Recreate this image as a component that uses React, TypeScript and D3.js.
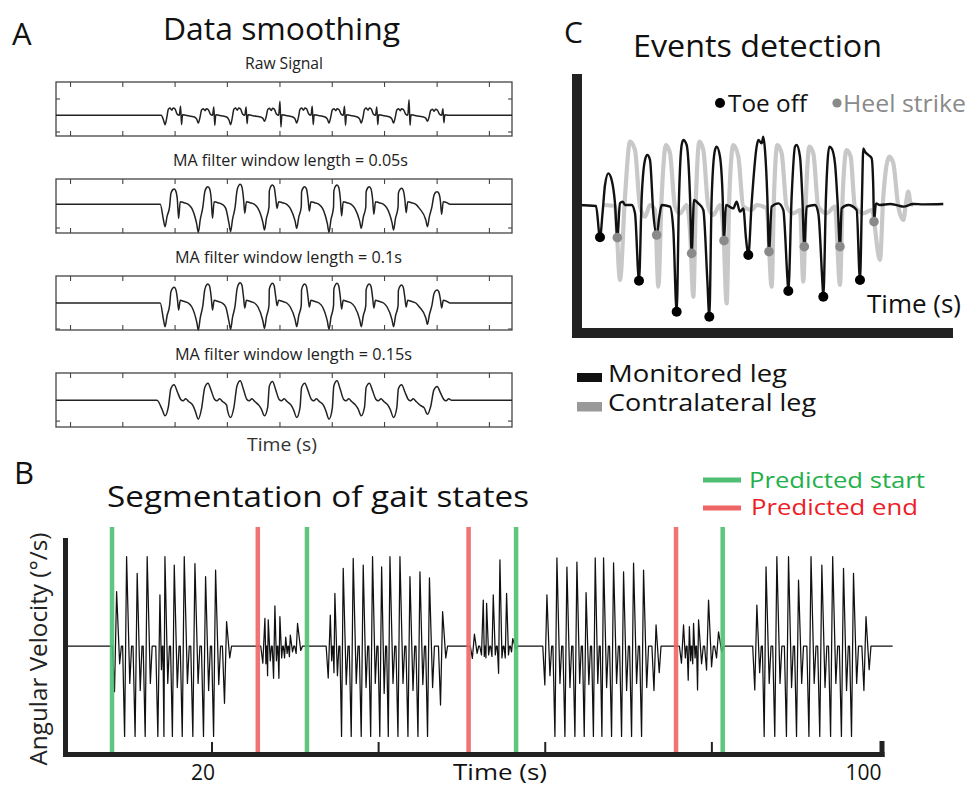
import React from "react";
import * as d3 from "d3";

type P = [number, number];

// ---------------- Panel A: data smoothing (unlabelled time units) ----------------
const aTickT = [-2.31, -0.69, 0.93, 2.55, 4.18, 5.8, 7.42, 9.05, 10.67];
const aTroughT = [0.62, 1.65, 2.65, 3.7, 4.7, 5.7, 6.7, 7.7, 8.75];
const aPeakT = [0.9, 1.95, 2.95, 3.95, 4.95, 5.95, 6.95, 7.95, 9.05];
const rawDip = [-28, -23, -28, -18, -23, -23, -23, -23, -18];
const rawBump = [22, 20, 22, 21, 22, 20, 22, 20, 18];
const rawSpikeUp = [27, 25, 25, 42, 27, 27, 25, 47, 20];
const rawSpikeDown = [-28, -30, -25, -35, -28, -30, -28, -30, -22];
const ma05Trough = [-67, -84, -82, -77, -72, -84, -72, -77, -67];
const ma05Peak = [46, 53, 60, 58, 53, 58, 53, 48, 38];
const ma05Notch = [-42, -42, -27, -12, -20, -35, -30, -25, -30];
const ma10Trough = [-71, -81, -79, -76, -71, -79, -71, -71, -64];
const ma10Peak = [47, 57, 61, 59, 57, 59, 57, 54, 39];
const ma10Notch = [-21, -21, -15, -8, -12, -18, -15, -12, -15];
const ma15Trough = [-48, -58, -53, -48, -53, -58, -48, -53, -43];
const ma15Peak = [47, 52, 59, 57, 52, 59, 52, 47, 42];
const aTitles = ["Raw Signal", "MA filter window length = 0.05s", "MA filter window length = 0.1s", "MA filter window length = 0.15s"];
const aVRange: P[] = [[-62, 100], [-86, 76], [-81, 81], [-82, 83]];
const aYTicks = [[49, -50], [-71], [-78], [-64]];

// ---------------- Panel B: gait segmentation (s, °/s) ----------------
// each stride: [peak time, peak value, deep trough, heel-strike trough]
const walk1 = [[8.55, 183, -154, -60], [9.75, 301, -305, -126], [11.02, 245, -305, -150], [12.22, 301, -305, -126], [13.75, 172, -305, -80], [14.35, 301, -305, -126], [15.47, 273, -305, -140], [16.67, 301, -305, -126], [17.95, 278, -305, -126], [19.23, 234, -305, -150], [20.43, 256, -305, -130], [21.75, 82, -193, -40]];
const walk2 = [[26.35, 93, -58, -60], [26.75, 88, -100, -50], [27.55, 135, -109, -50], [28.15, 99, -109, -40], [28.85, 30, -40, -25], [29.4, 37, -36, -20], [30.27, 76, -25, -15]];
const walk3 = [[34.2, 104, -108, -50], [34.75, 177, -90, -100], [35.75, 262, -305, -130], [36.95, 295, -305, -126], [38.15, 273, -305, -140], [39.27, 301, -305, -126], [40.36, 267, -305, -160], [41.36, 301, -305, -126], [42.56, 301, -305, -126], [43.76, 234, -305, -150], [44.96, 250, -305, -130], [46.1, 230, -305, -140], [47.68, 116, -199, -40]];
const walk4 = [[51.5, 40, -42, -25], [52.56, 155, -30, -35], [52.96, 144, -40, -30], [53.76, 172, -35, -30], [54.56, 290, -92, -40], [55.36, 177, -40, -30], [56.1, 25, -20, -10]];
const walk5 = [[60.2, 172, -131, -100], [61.4, 297, -305, -126], [62.6, 266, -305, -140], [63.8, 283, -305, -126], [64.9, 180, -305, -130], [66.0, 297, -305, -126], [67.0, 297, -305, -140], [68.2, 280, -305, -126], [69.4, 250, -305, -150], [70.6, 279, -305, -126], [71.8, 256, -305, -140], [73.3, 71, -150, -90]];
const walk6 = [[76.6, 71, -58, -40], [77.3, 65, -115, -50], [77.8, 76, -60, -40], [78.4, 88, -148, -60], [79.6, 155, -81, -70], [80.8, 48, -40, -20]];
const walk7 = [[85.4, 138, -148, -90], [86.5, 267, -305, -126], [87.8, 301, -305, -126], [89.2, 301, -305, -140], [90.4, 222, -305, -126], [91.9, 301, -305, -126], [93.2, 273, -305, -140], [94.5, 301, -305, -126], [95.8, 262, -305, -150], [97.0, 245, -305, -126], [98.5, 99, -150, -80]];
const predictedStart = [8.0, 31.4, 56.5, 81.3];
const predictedEnd = [25.5, 50.8, 75.7];
const bTicks = [20, 40, 60, 80, 100];
const bTickLabels = ["20", "", "", "", "100"];

// ---------------- Panel C: events detection ----------------
const monitored: P[] = [[0.25, 0], [0.78, -3], [0.9, -97], [0.98, -20], [1.05, 60], [1.15, 95], [1.25, 75], [1.35, 5], [1.42, -98], [1.5, 5], [1.58, 10], [1.65, 0], [1.85, 0], [1.95, -25], [2.07, -227], [2.15, 20], [2.25, 135], [2.32, 150], [2.4, 135], [2.5, -25], [2.6, -90], [2.68, -35], [2.75, 0], [3.0, -5], [3.1, -75], [3.2, -320], [3.27, 20], [3.35, 180], [3.4, 195], [3.5, 180], [3.6, 25], [3.65, -145], [3.72, 15], [3.85, 5], [4.0, -15], [4.12, -225], [4.18, -335], [4.25, 20], [4.35, 165], [4.4, 175], [4.5, 145], [4.58, 25], [4.62, -107], [4.68, 0], [4.9, -10], [5.0, 10], [5.1, -20], [5.2, -10], [5.28, -100], [5.35, -150], [5.45, 5], [5.6, 175], [5.65, 195], [5.75, 185], [5.8, 205], [5.85, 165], [5.92, 25], [5.97, -140], [6.05, -5], [6.25, 5], [6.4, -15], [6.52, -215], [6.55, -258], [6.65, 25], [6.75, 175], [6.8, 180], [6.9, 145], [6.97, 25], [7.03, -125], [7.1, -5], [7.35, 0], [7.45, -25], [7.58, -245], [7.6, -275], [7.68, 25], [7.78, 175], [7.85, 170], [7.95, 125], [8.03, 5], [8.1, -125], [8.15, -10], [8.35, 0], [8.6, -15], [8.7, -225], [8.76, 20], [8.8, 170], [8.85, 160], [8.95, 150], [9.05, 140], [9.1, 50], [9.12, -50], [9.18, 5], [9.3, 0], [9.6, 3], [9.9, -3], [10.0, -5], [10.3, 3], [10.6, 2], [11.2, 3]];
const contralateral: P[] = [[1.0, 0], [1.35, -3], [1.5, -225], [1.65, 25], [1.8, 190], [1.95, 165], [2.1, -5], [2.25, -35], [2.4, 0], [2.55, -15], [2.65, -245], [2.75, 25], [2.88, 180], [3.0, 155], [3.15, -5], [3.3, -25], [3.5, 0], [3.6, -75], [3.7, -275], [3.78, 25], [3.88, 190], [4.0, 165], [4.15, -5], [4.3, -30], [4.5, 0], [4.6, -75], [4.7, -295], [4.78, 25], [4.9, 180], [5.05, 145], [5.2, -5], [5.45, -15], [5.6, 0], [5.9, -10], [6.05, -245], [6.12, 25], [6.22, 180], [6.35, 155], [6.5, -5], [6.7, -25], [6.9, -15], [7.0, -230], [7.08, 25], [7.18, 175], [7.3, 155], [7.45, -5], [7.7, -25], [7.95, -5], [8.1, -240], [8.18, 25], [8.3, 165], [8.42, 145], [8.55, -5], [8.8, -25], [9.05, -15], [9.3, -165], [9.4, 25], [9.58, 145], [9.7, 125], [9.85, -5], [10.0, -45], [10.08, 5], [10.15, 40], [10.22, 5], [10.3, 0]];
const toeOff: P[] = [[0.9, -97], [2.07, -227], [3.2, -320], [4.18, -335], [5.35, -150], [6.55, -258], [7.6, -275], [8.7, -225]];
const heelStrike: P[] = [[1.42, -98], [2.6, -90], [3.65, -145], [4.62, -107], [5.97, -140], [7.03, -125], [8.1, -125], [9.12, -50]];

// ---------------- builders ----------------
const A_T0 = -2.76, A_T1 = 11.37;

function sortPts(p: P[]): P[] {
  return p.slice().sort((a, b) => a[0] - b[0]);
}

function rawTrace(): P[] {
  const p: P[] = [[A_T0, 0]];
  aTroughT.forEach((T, i) => {
    const d = rawDip[i], b = rawBump[i];
    p.push([T - 0.12, i ? -5 : 0], [T - 0.05, d * 0.5], [T, d], [T + 0.05, d * 0.3], [T + 0.1, b * 0.8], [T + 0.15, b], [T + 0.21, b * 0.7], [T + 0.25, b], [T + 0.31, b * 0.85], [T + 0.37, 4], [T + 0.44, 0], [T + 0.48, rawSpikeUp[i]], [T + 0.51, rawSpikeDown[i]], [T + 0.54, 2], [T + 0.64, 0]);
    if (i < aTroughT.length - 1) p.push([T + 0.8, -3]);
  });
  p.push([A_T1, 0]);
  return sortPts(p);
}

function maTrace(tr: number[], pk: number[], nt: number[]): P[] {
  const p: P[] = [[A_T0, 0]];
  aTroughT.forEach((T, i) => {
    const Pk = aPeakT[i];
    const last = i === aTroughT.length - 1;
    if (i === 0) p.push([T - 0.15, 0]);
    p.push([T - 0.05, tr[i] * 0.7], [T, tr[i]], [T + 0.06, tr[i] * 0.55], [T + 0.14, tr[i] * 0.1], [Pk - 0.1, pk[i] * 0.7], [Pk - 0.04, pk[i] * 0.96], [Pk, pk[i]], [Pk + 0.05, pk[i] * 0.88], [Pk + 0.1, pk[i] * 0.3], [Pk + 0.14, nt[i]], [Pk + 0.19, 8], [Pk + 0.3, 5]);
    if (!last) p.push([Pk + 0.44, 0], [Pk + 0.55, -12]);
    else p.push([Pk + 0.4, 0]);
  });
  p.push([A_T1, 0]);
  return sortPts(p);
}

function smoothTrace(tr: number[], pk: number[]): P[] {
  const p: P[] = [[A_T0, 0]];
  aTroughT.forEach((T, i) => {
    const Pk = aPeakT[i];
    const last = i === aTroughT.length - 1;
    if (i === 0) p.push([T - 0.25, 0]);
    p.push([T - 0.1, tr[i] * 0.55], [T, tr[i]], [T + 0.1, tr[i] * 0.45], [Pk - 0.1, pk[i] * 0.75], [Pk, pk[i]], [Pk + 0.1, pk[i] * 0.55], [Pk + 0.2, 3], [Pk + 0.28, -2], [Pk + 0.36, 4]);
    if (!last) p.push([Pk + 0.45, -4], [Pk + 0.58, -16]);
    else p.push([Pk + 0.45, 0]);
  });
  p.push([A_T1, 0]);
  return sortPts(p);
}

function gaitTrace(strides: number[][], t0: number, t1: number): P[] {
  const p: P[] = [[t0, 0]];
  strides.forEach((s, i) => {
    const [tp, vp, vd, vm] = s;
    const gp = i ? tp - strides[i - 1][0] : 10;
    const gn = i < strides.length - 1 ? strides[i + 1][0] - tp : 10;
    const a = Math.min(1, gp / 1.25), b = Math.min(1, gn / 1.25);
    p.push([tp - 0.5 * a, 0], [tp - 0.25 * a, vd], [tp, vp], [tp + 0.38 * b, vm], [tp + 0.6 * b, 0]);
  });
  p.push([t1, 0]);
  return sortPts(p);
}

const FONT = "'Open Sans', 'Noto Sans', sans-serif";
const NARROW = "'Liberation Sans Narrow', 'Open Sans', sans-serif";

export default function App() {
  // ---- Panel A
  const ax = d3.scaleLinear().domain([A_T0, A_T1]).range([56, 512]);
  const boxTops = [82, 179, 276, 373];
  const boxH = 54;
  const aTraces = [
    rawTrace(),
    maTrace(ma05Trough, ma05Peak, ma05Notch),
    maTrace(ma10Trough, ma10Peak, ma10Notch),
    smoothTrace(ma15Trough, ma15Peak),
  ];

  // ---- Panel B
  const bx = d3.scaleLinear().domain([20, 100]).range([212, 878.5]);
  const by = d3.scaleLinear().domain([-300, 300]).range([735, 557]);
  const allStrides = [...walk1, ...walk2, ...walk3, ...walk4, ...walk5, ...walk6, ...walk7];
  const bTrace = gaitTrace(allStrides, 2.5, 101.7);
  const bLine = d3.line<P>().x((d) => bx(d[0])).y((d) => by(d[1]));

  // ---- Panel C
  const cx = d3.scaleLinear().domain([0, 11.5]).range([570, 953.3]);
  const cy = d3.scaleLinear().domain([-390, 390]).range([335, 75]);
  const cLine = d3.line<P>().x((d) => cx(d[0])).y((d) => cy(d[1])).curve(d3.curveMonotoneX);

  const green = "#4fbf72";
  const red = "#ef6565";

  return (
    <svg width={979} height={788} viewBox="0 0 979 788" style={{ position: "absolute", left: 0, top: 0, background: "#fff" }}>
      <rect x={0} y={0} width={979} height={788} fill="#fff" />

      {/* ============ Panel A ============ */}
      <text x={12} y={45} fontFamily={FONT} fontSize={31} fill="#111">A</text>
      <text x={163} y={40} fontFamily={FONT} fontSize={31} fill="#111" textLength={237} lengthAdjust="spacingAndGlyphs">Data smoothing</text>
      {boxTops.map((top, bi) => {
        const ay = d3.scaleLinear().domain(aVRange[bi]).range([top + boxH, top]);
        const line = d3.line<P>().x((d) => ax(d[0])).y((d) => ay(d[1])).curve(d3.curveMonotoneX);
        const title = aTitles[bi];
        const tw = [78, 235, 227, 237][bi];
        const tx = [245, 173, 175, 175][bi];
        return (
          <g key={bi}>
            <text x={tx} y={top - 13} fontFamily={NARROW} fontSize={17} fill="#222" textLength={tw} lengthAdjust="spacingAndGlyphs">{title}</text>
            <rect x={56} y={top} width={456} height={boxH} fill="none" stroke="#444" strokeWidth={1.3} />
            {aTickT.map((t, i) => (
              <g key={i}>
                <line x1={ax(t)} x2={ax(t)} y1={top} y2={top + 5} stroke="#444" strokeWidth={1.1} />
                <line x1={ax(t)} x2={ax(t)} y1={top + boxH} y2={top + boxH - 5} stroke="#444" strokeWidth={1.1} />
              </g>
            ))}
            {aYTicks[bi].map((v, i) => (
              <g key={"y" + i}>
                <line x1={56} x2={60} y1={ay(v)} y2={ay(v)} stroke="#444" strokeWidth={1.1} />
                <line x1={512} x2={508} y1={ay(v)} y2={ay(v)} stroke="#444" strokeWidth={1.1} />
              </g>
            ))}
            <path d={line(aTraces[bi]) || ""} fill="none" stroke="#222" strokeWidth={1.5} strokeLinejoin="round" />
          </g>
        );
      })}
      <text x={247} y={451} fontFamily={NARROW} fontSize={18} fill="#333" textLength={70} lengthAdjust="spacingAndGlyphs">Time (s)</text>

      {/* ============ Panel C ============ */}
      <text x={564} y={43} fontFamily={FONT} fontSize={30} fill="#111">C</text>
      <text x={633} y={57} fontFamily={FONT} fontSize={31} fill="#111" textLength={249} lengthAdjust="spacingAndGlyphs">Events detection</text>
      <path d={cLine(contralateral) || ""} fill="none" stroke="#c8c8c8" strokeWidth={4.2} strokeLinejoin="round" />
      <path d={cLine(monitored) || ""} fill="none" stroke="#111" strokeWidth={2.4} strokeLinejoin="round" />
      {toeOff.map((d, i) => (
        <circle key={"to" + i} cx={cx(d[0])} cy={cy(d[1])} r={5} fill="#000" />
      ))}
      {heelStrike.map((d, i) => (
        <circle key={"hs" + i} cx={cx(d[0])} cy={cy(d[1])} r={4.8} fill="#8a8a8a" />
      ))}
      <rect x={572} y={74} width={10} height={264} fill="#222" />
      <rect x={572} y={328} width={381} height={10} fill="#222" />
      <circle cx={720} cy={103} r={5} fill="#000" />
      <text x={728} y={112} fontFamily={FONT} fontSize={24} fill="#111" textLength={79} lengthAdjust="spacingAndGlyphs">Toe off</text>
      <circle cx={837} cy={103} r={4.6} fill="#8a8a8a" />
      <text x={843} y={112} fontFamily={FONT} fontSize={24} fill="#8a8a8a" textLength={123} lengthAdjust="spacingAndGlyphs">Heel strike</text>
      <text x={867} y={313} fontFamily={FONT} fontSize={25} fill="#111" textLength={94} lengthAdjust="spacingAndGlyphs">Time (s)</text>
      <rect x={577} y={373} width={25} height={9} fill="#111" />
      <text x={608} y={382} fontFamily={FONT} fontSize={24} fill="#111" textLength={179} lengthAdjust="spacingAndGlyphs">Monitored leg</text>
      <rect x={577} y={402} width={25} height={9.5} fill="#999" />
      <text x={608} y={411} fontFamily={FONT} fontSize={24} fill="#111" textLength={208} lengthAdjust="spacingAndGlyphs">Contralateral leg</text>

      {/* ============ Panel B ============ */}
      <text x={14} y={484} fontFamily={FONT} fontSize={31} fill="#111">B</text>
      <text x={107} y={507} fontFamily={FONT} fontSize={30} fill="#111" textLength={422} lengthAdjust="spacingAndGlyphs">Segmentation of gait states</text>
      <line x1={703} x2={741} y1={480} y2={480} stroke={green} strokeWidth={5} />
      <text x={749} y={488} fontFamily={FONT} fontSize={22} fill="#22b04b" textLength={176} lengthAdjust="spacingAndGlyphs">Predicted start</text>
      <line x1={703} x2={741} y1={508} y2={508} stroke={red} strokeWidth={5} />
      <text x={751} y={515} fontFamily={FONT} fontSize={22} fill="#ec2027" textLength={167} lengthAdjust="spacingAndGlyphs">Predicted end</text>
      <text transform="translate(47,649) rotate(-90)" textAnchor="middle" fontFamily={FONT} fontSize={23} fill="#222" textLength={233} lengthAdjust="spacingAndGlyphs">Angular Velocity (°/s)</text>

      <path d={bLine(bTrace) || ""} fill="none" stroke="#111" strokeWidth={1.25} strokeLinejoin="round" />
      {predictedStart.map((t, i) => (
        <line key={"ps" + i} x1={bx(t)} x2={bx(t)} y1={527} y2={754} stroke={green} strokeWidth={4.5} opacity={0.9} />
      ))}
      {predictedEnd.map((t, i) => (
        <line key={"pe" + i} x1={bx(t)} x2={bx(t)} y1={527} y2={754} stroke={red} strokeWidth={4.5} opacity={0.9} />
      ))}
      <rect x={63} y={538} width={5} height={219} fill="#222" />
      <rect x={63} y={752} width={bx(100) + 6 - 63} height={5} fill="#222" />
      {bTicks.map((t, i) => (
        <g key={"bt" + i}>
          {i < bTicks.length - 1 ? (
            <line x1={bx(t)} x2={bx(t)} y1={742} y2={753} stroke="#222" strokeWidth={2} />
          ) : (
            <rect x={bx(t) + 1} y={741} width={5} height={16} fill="#222" />
          )}
          {bTickLabels[i] ? (
            <text x={bx(t) + 3} y={780} textAnchor="end" fontFamily={FONT} fontSize={21} fill="#111">{bTickLabels[i]}</text>
          ) : null}
        </g>
      ))}
      <text x={500} y={780} textAnchor="middle" fontFamily={FONT} fontSize={21} fill="#111" textLength={94} lengthAdjust="spacingAndGlyphs">Time (s)</text>
    </svg>
  );
}
